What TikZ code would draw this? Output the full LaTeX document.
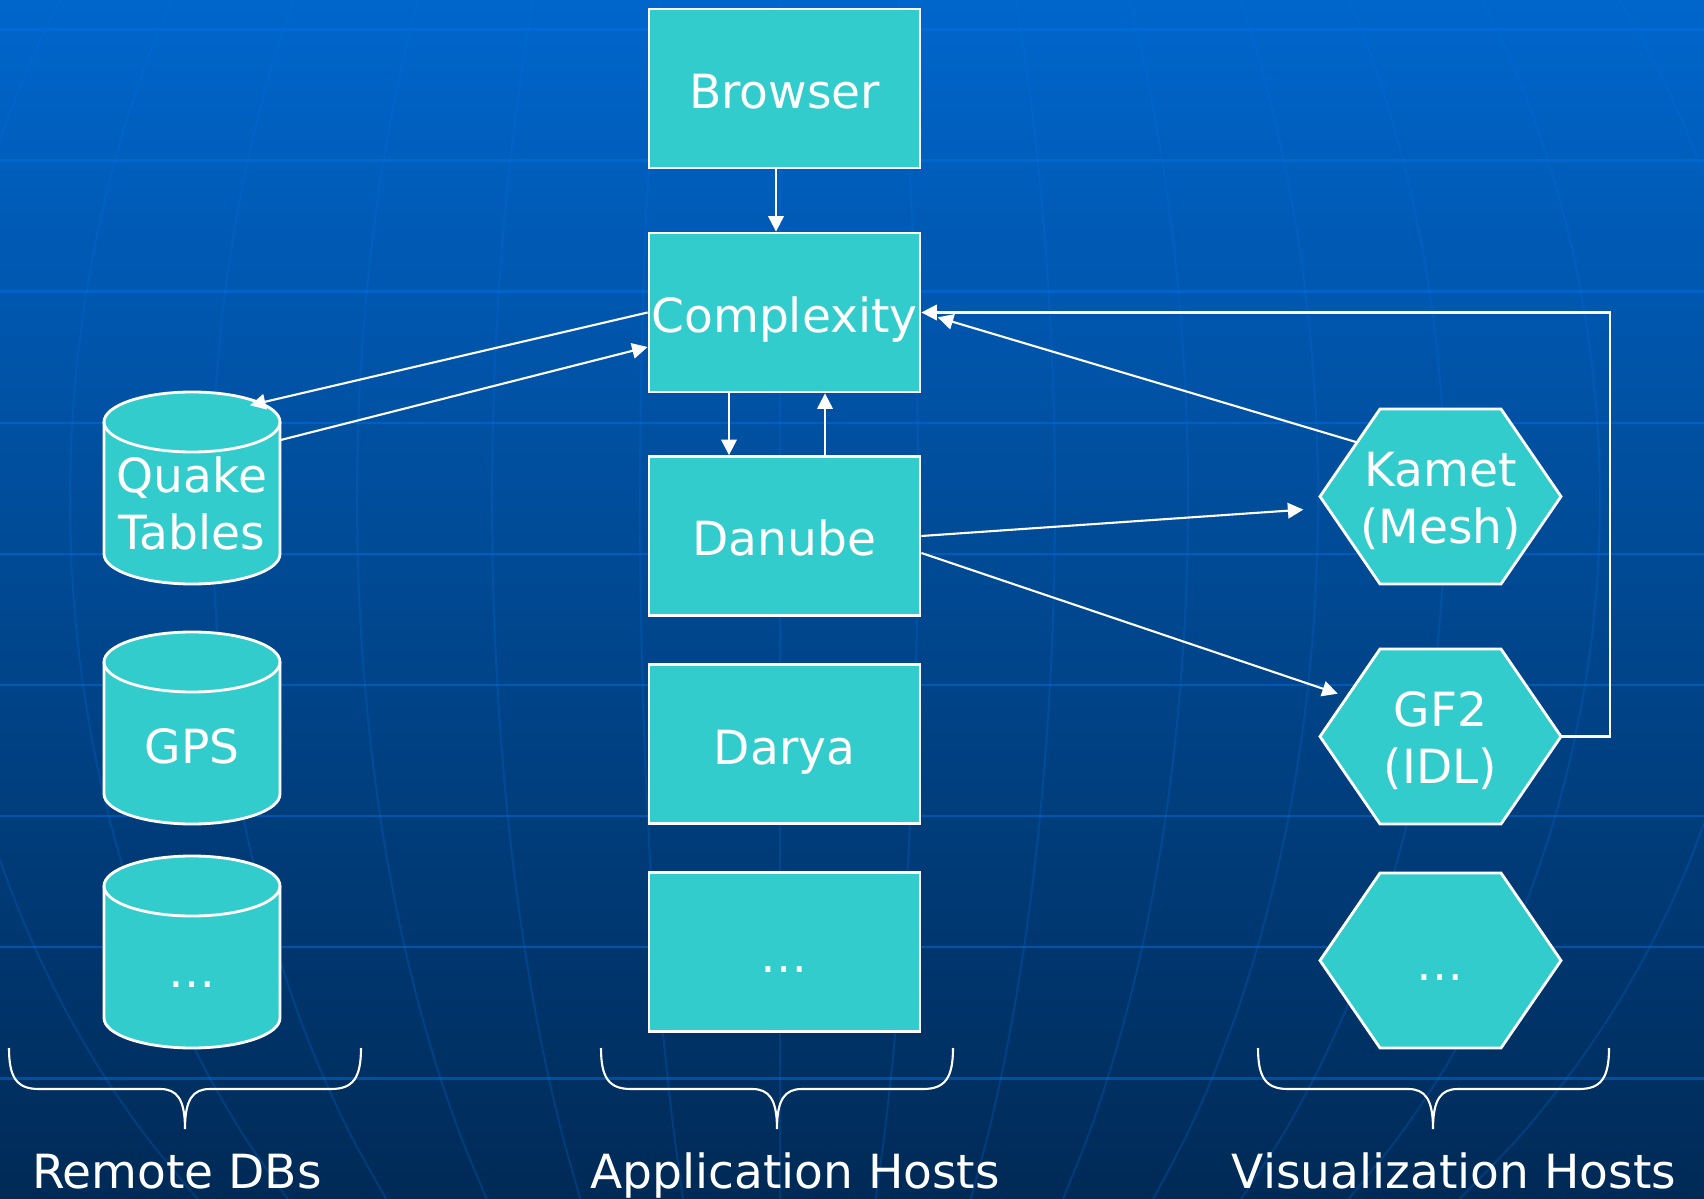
\documentclass[tikz,border=0pt]{standalone}
\usepackage{fontspec}
\setmainfont{DejaVu Sans}
\usetikzlibrary{arrows.meta}
\definecolor{slideTop}{RGB}{0,102,204}
\definecolor{slideBottom}{RGB}{0,42,86}
\definecolor{gridBlue}{RGB}{0,112,226}
\definecolor{hostFill}{RGB}{51,204,204}
\tikzset{
	oneline/.style={text height=0.44cm, text depth=0.04cm},
	hostbox/.style={rectangle, draw=white, line width=0.8pt, fill=hostFill, text=white, inner sep=0pt, minimum width=2.71cm, minimum height=1.59cm, oneline},
	dbtext/.style={rectangle, text=white, inner sep=0pt, minimum width=1.76cm, minimum height=1.62cm, align=center},
	vishex/.style={rectangle, text=white, inner sep=0pt, minimum width=2.41cm, minimum height=1.75cm, align=center},
	panel/.style={draw=white, line width=0.8pt, fill=hostFill},
	link/.style={draw=white, line width=0.6pt, -{Triangle[length=4.4pt,width=4.4pt]}},
	gridline/.style={gridBlue, opacity=0.5, line width=0.85pt},
	meridian/.style={gridBlue, opacity=0.25, line width=0.55pt},
	bracel/.style={white, line width=0.6pt},
	grouplabel/.style={text=white, anchor=base, inner sep=0pt}
}
% database drum: centre x, centre y
\newcommand{\dbdrum}[2]{%
	\filldraw[panel] (#1-0.88,#2+0.66) -- (#1-0.88,#2-0.66)
		arc[start angle=180, end angle=360, x radius=0.88, y radius=0.30]
		-- (#1+0.88,#2+0.66)
		arc[start angle=0, end angle=180, x radius=0.88, y radius=0.30] -- cycle;
	\draw[panel, fill=none] (#1-0.88,#2+0.66) arc[start angle=180, end angle=360, x radius=0.88, y radius=0.30];}
% flattened hexagon: centre x, centre y
\newcommand{\hexpanel}[2]{%
	\filldraw[panel] (#1-1.205,#2) -- (#1-0.605,#2+0.875) -- (#1+0.605,#2+0.875)
		-- (#1+1.205,#2) -- (#1+0.605,#2-0.875) -- (#1-0.605,#2-0.875) -- cycle;}
% curly brace under a column of hosts: left end, tip, right end
\newcommand{\hostbrace}[3]{%
	\draw[bracel] (#1,-10.48) .. controls (#1,-10.78) and (#1+0.08,-10.89) .. (#1+0.3,-10.89)
		-- (#2-0.25,-10.89) .. controls (#2-0.08,-10.89) and (#2,-10.99) .. (#2,-11.29)
		.. controls (#2,-10.99) and (#2+0.08,-10.89) .. (#2+0.25,-10.89)
		-- (#3-0.3,-10.89) .. controls (#3-0.08,-10.89) and (#3,-10.78) .. (#3,-10.48);}
\begin{document}
\begin{tikzpicture}[font=\fontsize{13.4pt}{16.2pt}\selectfont]
	% slide background
	\fill[top color=slideTop, bottom color=slideBottom] (0,0) rectangle (17.04,-11.99);
	\useasboundingbox (0,0) rectangle (17.04,-11.99);
	\begin{scope}
		\clip (0,0) rectangle (17.04,-11.99);
		\foreach \gy in {0.30,1.61,2.92,4.23,5.54,6.85,8.16,9.47,10.78}
			\draw[gridline] (0,-\gy) -- (17.04,-\gy);
		\foreach \mx in {-0.6,0.7,2.12,3.57,4.92,6.4,7.8,9.18,10.55,11.88,13.18,14.45,16.0,17.6}
			\draw[meridian] plot[smooth, domain=0:11.99, samples=20, variable=\t]
				({7.8+(\mx-7.8)*sqrt(1-((\t-5)/9.7)*((\t-5)/9.7))},{-\t});
	\end{scope}

	% application hosts
	\node (browser) at (7.845,-0.885) [hostbox] {Browser};
	\node (cplx) at (7.845,-3.125) [hostbox] {Complexity};
	\node (danube) at (7.845,-5.36) [hostbox] {Danube};
	\node (darya) at (7.845,-7.44) [hostbox] {Darya};
	\node (appmore) at (7.845,-9.52) [hostbox] {…};

	% remote databases
	\dbdrum{1.92}{-4.88}
	\dbdrum{1.92}{-7.28}
	\dbdrum{1.92}{-9.52}
	\node (quake) at (1.92,-5.03) [dbtext] {Quake\\Tables};
	\node (gps) at (1.92,-7.43) [dbtext, oneline] {GPS};
	\node (dbmore) at (1.92,-9.67) [dbtext, oneline] {…};

	% visualization hosts
	\hexpanel{14.405}{-4.965}
	\hexpanel{14.405}{-7.365}
	\hexpanel{14.405}{-9.605}
	\node (kamet) at (14.405,-5.01) [vishex] {Kamet\\(Mesh)};
	\node (gf2) at (14.405,-7.41) [vishex] {GF2\\(IDL)};
	\node (vismore) at (14.405,-9.605) [vishex, oneline] {…};

	\draw[link] ([xshift=-0.085cm]browser.south) -- ([xshift=-0.085cm]cplx.north);
	\draw[link] ([xshift=-0.555cm]cplx.south) -- ([xshift=-0.555cm]danube.north);
	\draw[link] ([xshift=0.405cm]danube.north) -- ([xshift=0.405cm]cplx.south);
	\draw[link] (cplx.west) -- ([shift={(0.58,0.16)}]quake.north);
	\draw[link] ([yshift=0.63cm]quake.east) -- ([yshift=-0.345cm]cplx.west);
	\draw[link, shorten >=0.17cm] ([shift={(-0.833,0.586)}]kamet.center) -- (cplx.east);
	\draw[link] ([yshift=0.045cm]gf2.east) -- ++(0.48,0) |- (cplx.east);
	\draw[link, shorten >=0.16cm] (danube.east) -- ([yshift=-0.075cm]kamet.west);
	\draw[link, shorten >=0.1cm] ([yshift=-0.17cm]danube.east) -- ([shift={(-0.933,0.441)}]gf2.center);

	% groups
	\hostbrace{0.09}{1.85}{3.61}
	\hostbrace{6.01}{7.77}{9.53}
	\hostbrace{12.58}{14.33}{16.09}
	\node (dblabel) at (1.77,-11.88) [grouplabel] {Remote DBs};
	\node (applabel) at (7.95,-11.88) [grouplabel] {Application Hosts};
	\node (vislabel) at (14.54,-11.88) [grouplabel] {Visualization Hosts};
\end{tikzpicture}
\end{document}
